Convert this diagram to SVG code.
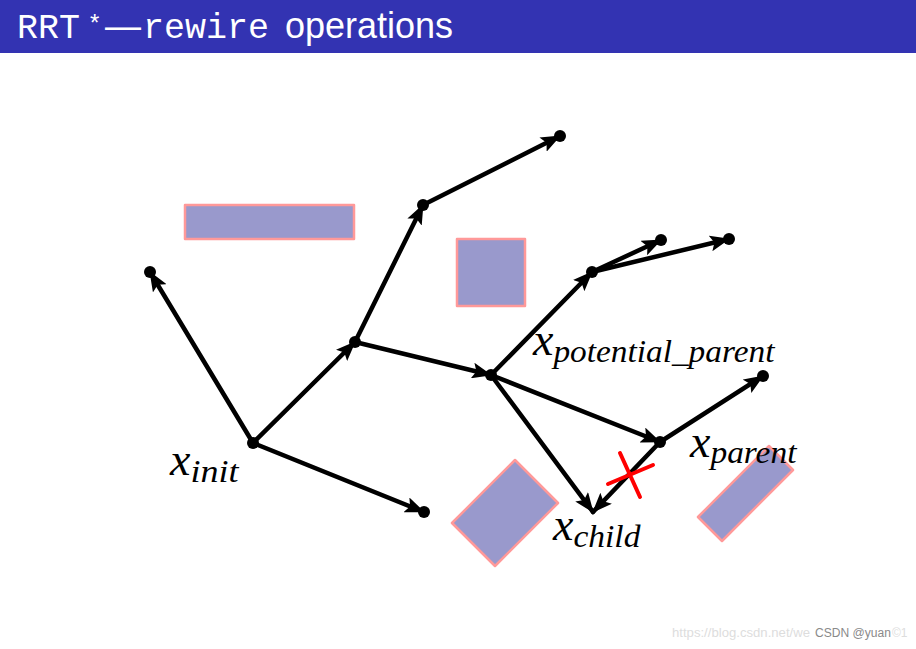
<svg xmlns="http://www.w3.org/2000/svg" width="916" height="649" viewBox="0 0 916 649">
<style>
.edge{stroke:#000;stroke-width:4.5;fill:none;stroke-linecap:round;marker-end:url(#ah)}
.dot{fill:#000}
.obs{fill:#9999cc;stroke:#ff9999;stroke-width:2.5;stroke-linejoin:round}
.lbl{font-family:"Liberation Serif","DejaVu Serif",serif;font-style:italic;fill:#000}
.main{font-size:46px}
.sub{font-size:31px}
.mono{font-family:"Liberation Mono","DejaVu Sans Mono",monospace;font-size:35px;fill:#fff}
.sans{font-family:"Liberation Sans",Arial,sans-serif;fill:#fff}
.cross{stroke:#ff0000;stroke-width:4;stroke-linecap:round}
</style>
<defs>
<marker id="ah" markerUnits="userSpaceOnUse" markerWidth="22" markerHeight="16" refX="19" refY="8" orient="auto">
<path d="M0,0 L20,8 L0,16 L4,8 z" fill="#000"/>
</marker>
</defs>
<rect x="0" y="0" width="916" height="649" fill="#fff"/>
<g id="title">
<rect x="0" y="0" width="916" height="53" fill="#3333b2"/>
<text class="mono" x="17" y="38">RRT</text>
<text class="sans" x="90" y="31" font-size="24">*</text>
<text class="sans" x="105" y="38" font-size="36">—</text>
<text class="mono" x="143" y="38">rewire</text>
<text class="sans" x="285" y="38" font-size="36">operations</text>
</g>
<g id="obstacles">
<rect class="obs" x="185" y="205" width="169" height="34"/>
<rect class="obs" x="457" y="239" width="68" height="67"/>
<polygon class="obs" points="452,523 515,460 558,503 495,566"/>
<polygon class="obs" points="698,517 769,446 793,470 722,541"/>
</g>
<g id="connectors">
<line class="edge" x1="253" y1="443" x2="150" y2="272"/>
<line class="edge" x1="253" y1="443" x2="355" y2="342"/>
<line class="edge" x1="253" y1="443" x2="424" y2="512"/>
<line class="edge" x1="355" y1="342" x2="423" y2="205"/>
<line class="edge" x1="423" y1="205" x2="560" y2="136"/>
<line class="edge" x1="355" y1="342" x2="491" y2="375"/>
<line class="edge" x1="491" y1="375" x2="592" y2="272"/>
<line class="edge" x1="592" y1="272" x2="661" y2="240"/>
<line class="edge" x1="592" y1="272" x2="729" y2="239"/>
<line class="edge" x1="491" y1="375" x2="660" y2="442"/>
<line class="edge" x1="660" y1="442" x2="763" y2="376"/>
<line class="edge" x1="491" y1="375" x2="593" y2="512"/>
<line class="edge" x1="660" y1="442" x2="593" y2="512"/>
<g id="rewire-cut">
<line class="cross" x1="620" y1="453" x2="640" y2="497"/>
<line class="cross" x1="608" y1="484" x2="653" y2="465"/>
</g>
</g>
<g id="n-init"><circle class="dot" cx="253" cy="443" r="6"/>
<text class="lbl" x="170" y="475"><tspan class="main">x</tspan><tspan class="sub" dy="7" textLength="48" lengthAdjust="spacingAndGlyphs">init</tspan></text></g>
<g id="n-a"><circle class="dot" cx="150" cy="272" r="6"/></g>
<g id="n-b"><circle class="dot" cx="355" cy="342" r="6"/></g>
<g id="n-c"><circle class="dot" cx="423" cy="205" r="6"/></g>
<g id="n-d"><circle class="dot" cx="560" cy="136" r="6"/></g>
<g id="n-e"><circle class="dot" cx="424" cy="512" r="6"/></g>
<g id="n-potential-parent"><circle class="dot" cx="491" cy="375" r="6"/>
<text class="lbl" x="533" y="355"><tspan class="main">x</tspan><tspan class="sub" dy="7" textLength="221" lengthAdjust="spacingAndGlyphs">potential_parent</tspan></text></g>
<g id="n-g"><circle class="dot" cx="592" cy="272" r="6"/></g>
<g id="n-h"><circle class="dot" cx="661" cy="240" r="6"/></g>
<g id="n-i"><circle class="dot" cx="729" cy="239" r="6"/></g>
<g id="n-parent"><circle class="dot" cx="660" cy="442" r="6"/>
<text class="lbl" x="690" y="457"><tspan class="main">x</tspan><tspan class="sub" dy="6" textLength="86" lengthAdjust="spacingAndGlyphs">parent</tspan></text></g>
<g id="n-k"><circle class="dot" cx="763" cy="376" r="6"/></g>
<g id="n-child">
<text class="lbl" x="553" y="540"><tspan class="main">x</tspan><tspan class="sub" dy="7" textLength="67" lengthAdjust="spacingAndGlyphs">child</tspan></text></g>
<g id="watermark" font-family="'Liberation Sans',Arial,sans-serif" font-size="12">
<text x="672" y="637" fill="#dddddd" textLength="138" lengthAdjust="spacingAndGlyphs">https://blog.csdn.net/we</text>
<text x="815" y="637" fill="#8a8a8a" textLength="76" lengthAdjust="spacingAndGlyphs">CSDN @yuan</text>
<text x="892" y="637" fill="#dddddd">©1</text>
</g>
</svg>
